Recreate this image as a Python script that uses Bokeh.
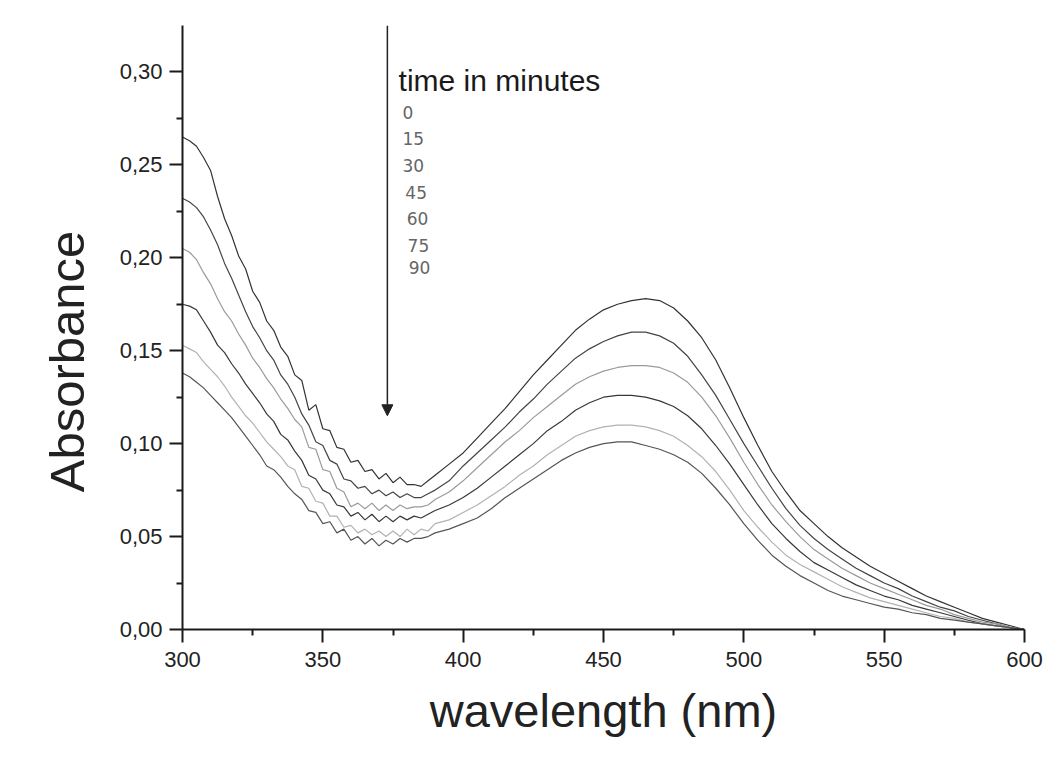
from bokeh.plotting import figure
from bokeh.models import Range1d, FixedTicker, CustomJSTickFormatter, Label, Arrow, NormalHead
from bokeh.embed import file_html
from bokeh.resources import INLINE

# ---------------- data ----------------
# wavelength grid (nm): fine sampling in the noisy UV part, coarser afterwards
wavelength = [300 + 2.5 * i for i in range(37)] + [395 + 5 * i for i in range(42)]

abs_0 = [.265, .263, .260, .254, .247, .233, .221, .212, .201, .194,
         .182, .176, .166, .161, .152, .147, .137, .134, .118, .121,
         .108, .107, .098, .097, .090, .091, .085, .086, .081, .084,
         .079, .082, .078, .078, .077, .080, .083,
         .089, .095, .103, .111, .119, .128, .137, .145, .153, .161,
         .167, .172, .175, .177, .178, .177, .173, .166, .157, .145,
         .130, .114, .099, .085, .074, .064, .057, .050, .044, .039,
         .034, .030, .026, .022, .018, .015, .012, .009, .006, .004,
         .002, .000]

abs_15 = [.232, .230, .227, .222, .215, .207, .197, .189, .180, .171,
          .163, .157, .150, .145, .137, .132, .125, .116, .110, .101,
          .099, .091, .089, .081, .080, .076, .077, .073, .075, .072,
          .074, .071, .073, .071, .071, .073, .075,
          .080, .088, .095, .102, .109, .117, .124, .132, .139, .146,
          .151, .155, .158, .160, .160, .158, .154, .147, .137, .126,
          .113, .100, .088, .076, .065, .056, .049, .043, .038, .033,
          .029, .025, .022, .018, .015, .012, .010, .007, .005, .003,
          .001, .000]

abs_30 = [.205, .203, .199, .192, .186, .178, .171, .166, .159, .153,
          .146, .141, .135, .130, .124, .119, .113, .109, .098, .097,
          .086, .085, .076, .074, .066, .068, .065, .068, .064, .067,
          .064, .067, .065, .066, .066, .067, .070,
          .074, .080, .087, .094, .101, .107, .114, .120, .126, .132,
          .136, .139, .141, .142, .142, .141, .138, .133, .125, .115,
          .103, .090, .078, .067, .058, .050, .043, .038, .033, .029,
          .025, .022, .019, .016, .013, .011, .008, .006, .004, .003,
          .001, .000]

abs_45 = [.175, .174, .172, .166, .160, .153, .149, .143, .138, .132,
          .127, .122, .116, .112, .105, .102, .096, .091, .083, .081,
          .075, .073, .067, .066, .061, .063, .059, .062, .058, .061,
          .058, .061, .059, .061, .060, .062, .064,
          .067, .071, .076, .082, .088, .094, .100, .107, .112, .118,
          .122, .125, .126, .126, .125, .123, .120, .115, .108, .099,
          .089, .078, .067, .057, .049, .042, .036, .032, .028, .024,
          .021, .018, .016, .013, .011, .009, .007, .005, .003, .002,
          .001, .000]

abs_60 = [.153, .151, .149, .144, .140, .136, .131, .125, .120, .115,
          .111, .106, .101, .097, .093, .088, .086, .077, .076, .069,
          .068, .061, .061, .055, .056, .052, .054, .051, .053, .050,
          .053, .050, .054, .051, .054, .053, .057,
          .059, .063, .067, .072, .077, .083, .088, .094, .099, .104,
          .107, .109, .110, .110, .109, .107, .104, .099, .093, .085,
          .075, .064, .055, .047, .040, .035, .031, .027, .023, .020,
          .017, .015, .013, .011, .009, .007, .006, .004, .003, .002,
          .001, .000]

abs_75 = [.138, .136, .133, .130, .126, .122, .118, .114, .109, .104,
          .099, .094, .088, .086, .082, .077, .073, .070, .064, .063,
          .057, .058, .052, .054, .048, .050, .046, .049, .045, .048,
          .046, .049, .047, .049, .049, .050, .052,
          .054, .057, .060, .065, .071, .076, .081, .086, .091, .095,
          .098, .100, .101, .101, .099, .097, .094, .090, .084, .076,
          .067, .057, .048, .040, .034, .029, .025, .021, .018, .016,
          .014, .012, .011, .009, .008, .006, .005, .004, .003, .002,
          .001, .000]

series = [abs_0, abs_15, abs_30, abs_45, abs_60, abs_75]
series_colors = ["#333333", "#444444", "#9a9a9a", "#383838", "#b2b2b2", "#555555"]

x_ticks = [300, 350, 400, 450, 500, 550, 600]
x_minor = [325, 375, 425, 475, 525, 575]
y_ticks = [0.0, 0.05, 0.10, 0.15, 0.20, 0.25, 0.30]
y_minor = [0.025, 0.075, 0.125, 0.175, 0.225, 0.275]

x_title = "wavelength (nm)"
y_title = "Absorbance"
legend_title = "time in minutes"
legend_times = ["0", "15", "30", "45", "60", "75", "90"]

# ---------------- figure ----------------
FONT = "Liberation Sans"
p = figure(width=1045, height=773, output_backend="svg", toolbar_location=None,
           x_range=Range1d(300, 600), y_range=Range1d(0, 0.325),
           min_border_left=182, min_border_right=21, min_border_top=25, min_border_bottom=144,
           background_fill_color="white", border_fill_color="white")
p.outline_line_color = None
p.grid.visible = False

for ys, c in zip(series, series_colors):
    p.line(wavelength, ys, line_color=c, line_width=1.2)

for ax in (p.xaxis[0], p.yaxis[0]):
    ax.axis_line_width = 2
    ax.axis_line_color = "#1a1a1a"
    ax.major_tick_line_width = 2
    ax.minor_tick_line_width = 2
    ax.major_tick_line_color = "#1a1a1a"
    ax.minor_tick_line_color = "#1a1a1a"
    ax.major_tick_in = 0
    ax.major_tick_out = 13
    ax.minor_tick_in = 0
    ax.minor_tick_out = 6
    ax.major_label_text_font = FONT
    ax.major_label_text_font_size = "22px"
    ax.major_label_text_color = "#222222"
    ax.axis_label_text_font = FONT
    ax.axis_label_text_font_style = "normal"
    ax.axis_label_text_color = "#222222"

p.xaxis[0].ticker = FixedTicker(ticks=x_ticks, minor_ticks=x_minor)
p.yaxis[0].ticker = FixedTicker(ticks=y_ticks, minor_ticks=y_minor)
p.xaxis[0].major_label_standoff = 9
p.yaxis[0].major_label_standoff = 7
p.yaxis[0].formatter = CustomJSTickFormatter(code="return tick.toFixed(2).replace('.', ',');")
p.xaxis[0].formatter = CustomJSTickFormatter(code="return tick.toFixed(0);")

# axis titles
p.xaxis[0].axis_label = x_title
p.xaxis[0].axis_label_text_font_size = "47px"
p.xaxis[0].axis_label_standoff = 14
# non-breaking spaces shift the rotated title down a little, as in the original
p.yaxis[0].axis_label = y_title + "\u00a0" * 5
p.yaxis[0].axis_label_text_font_size = "49px"
p.yaxis[0].axis_label_standoff = 23

# arrow and legend-like annotation
p.add_layout(Arrow(end=NormalHead(size=11, fill_color="#222222", line_color="#222222"),
                   x_start=373, y_start=0.325, x_end=373, y_end=0.115,
                   line_color="#222222", line_width=1.5))
p.add_layout(Label(x=377.0, y=0.2955, text=legend_title, text_baseline="alphabetic",
                   text_font=FONT, text_font_size="30px", text_color="#1a1a1a"))

time_x = [378.4, 378.4, 378.4, 379.4, 379.9, 380.2, 380.6]
time_y = [0.2783, 0.2643, 0.2497, 0.2352, 0.2212, 0.2067, 0.1948]
for t, tx, ty in zip(legend_times, time_x, time_y):
    p.add_layout(Label(x=tx, y=ty, text=t, text_baseline="middle", text_font="DejaVu Sans",
                       text_font_size="17px", text_color="#666666"))

open("out.html", "w").write(file_html(p, INLINE))
